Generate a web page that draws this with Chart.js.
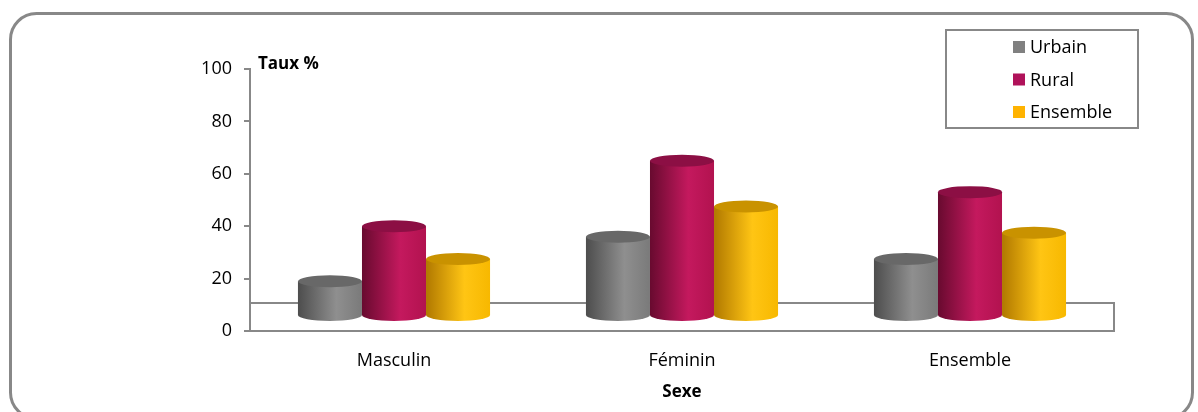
<!DOCTYPE html>
<html lang="fr">
  <head>
    <meta charset="UTF-8" />
    <title>Taux par sexe</title>
    <script src="https://cdn.jsdelivr.net/npm/chart.js@4.4.1/dist/chart.umd.min.js"></script>
    <style>
      html, body { margin: 0; padding: 0; background: #fff; }
    </style>
  </head>
  <body>
    <canvas id="graphique" width="1198" height="412"></canvas>
    <script>
      // Donnees
      var categories = ["Masculin", "Féminin", "Ensemble"];
      var nomsSeries = ["Urbain", "Rural", "Ensemble"];
      var urbain = [19, 36, 27.5];
      var rural = [40, 65, 53];
      var ensemble = [27.5, 47.5, 37.5];
      var graduationsY = [0, 20, 40, 60, 80, 100];
      var titreY = "Taux %";
      var titreX = "Sexe";

      // Couleurs : [bord sombre, reflet, bord droit, dessus, legende]
      var couleurs = [
        ["#4d4d4d", "#8f8f8f", "#7a7a7a", "#686868", "#808080"],
        ["#680a2f", "#c4195e", "#b2124f", "#8c0f44", "#b0125a"],
        ["#b07800", "#ffc514", "#f7b800", "#c99200", "#ffb300"]
      ];

      var police = "'Open Sans', sans-serif";
      var gris = "#888888";
      var invisible = "rgba(0,0,0,0)";

      var dessin = {
        id: "dessin",
        beforeDraw: function (chart) {
          // cadre arrondi (le bas depasse de l'image)
          var ctx = chart.ctx;
          ctx.save();
          ctx.strokeStyle = gris;
          ctx.lineWidth = 3;
          ctx.beginPath();
          ctx.roundRect(10.5, 13.5, 1182, 405, 26);
          ctx.stroke();
          ctx.restore();
        },
        beforeDatasetsDraw: function (chart) {
          // plancher 3D
          var ctx = chart.ctx, a = chart.chartArea;
          ctx.save();
          ctx.strokeStyle = gris;
          ctx.lineWidth = 2;
          ctx.strokeRect(a.left, a.bottom - 28, a.right - a.left, 28);
          ctx.restore();
        },
        afterDatasetsDraw: function (chart) {
          var ctx = chart.ctx, a = chart.chartArea;
          ctx.save();
          chart.data.datasets.forEach(function (ds, i) {
            var c = couleurs[i];
            chart.getDatasetMeta(i).data.forEach(function (bar) {
              var w = bar.width, x = bar.x, g = x - w / 2, d = x + w / 2;
              var haut = bar.y, bas = bar.base - 15, ry = 6;
              var grad = ctx.createLinearGradient(g, 0, d, 0);
              grad.addColorStop(0, c[0]);
              grad.addColorStop(0.6, c[1]);
              grad.addColorStop(1, c[2]);
              ctx.beginPath();
              ctx.moveTo(g, haut);
              ctx.lineTo(g, bas);
              ctx.ellipse(x, bas, w / 2, ry, 0, Math.PI, 0, true);
              ctx.lineTo(d, haut);
              ctx.closePath();
              ctx.fillStyle = grad;
              ctx.fill();
              ctx.beginPath();
              ctx.ellipse(x, haut, w / 2, ry, 0, 0, 2 * Math.PI);
              ctx.fillStyle = c[3];
              ctx.fill();
            });
          });

          // titres
          ctx.fillStyle = "#000";
          ctx.font = "bold 17px " + police;
          ctx.textBaseline = "middle";
          ctx.textAlign = "left";
          ctx.fillText(titreY, a.left + 8, 64);
          ctx.textAlign = "center";
          ctx.fillText(titreX, (a.left + a.right) / 2, 392);

          // legende
          ctx.strokeStyle = gris;
          ctx.lineWidth = 2;
          ctx.strokeRect(946, 30, 192, 98);
          ctx.font = "18px " + police;
          ctx.textAlign = "left";
          chart.data.datasets.forEach(function (ds, i) {
            var y = 47 + i * 32.5;
            ctx.fillStyle = couleurs[i][4];
            ctx.fillRect(1013, y - 6, 12, 12);
            ctx.fillStyle = "#000";
            ctx.fillText(ds.label, 1030, y + 1);
          });
          ctx.restore();
        }
      };

      new Chart(document.getElementById("graphique"), {
        type: "bar",
        data: {
          labels: categories,
          datasets: [
            { label: nomsSeries[0], data: urbain, backgroundColor: invisible },
            { label: nomsSeries[1], data: rural, backgroundColor: invisible },
            { label: nomsSeries[2], data: ensemble, backgroundColor: invisible }
          ]
        },
        options: {
          responsive: false,
          animation: false,
          datasets: {
            bar: {
              borderWidth: 0,
              categoryPercentage: 0.667,
              barPercentage: 1
            }
          },
          layout: { padding: { left: 0, right: 84, top: 69, bottom: 0 } },
          plugins: {
            colors: { enabled: false },
            legend: { display: false },
            tooltip: { enabled: false }
          },
          scales: {
            x: {
              grid: { display: false, drawTicks: false },
              border: { color: gris, width: 2 },
              ticks: { color: "#000", padding: 19, font: { family: police, size: 18 } },
              afterFit: function (s) { s.height = 81; }
            },
            y: {
              min: 0,
              max: 100,
              afterBuildTicks: function (axe) {
                axe.ticks = graduationsY.map(function (v) { return { value: v }; });
              },
              grid: { drawOnChartArea: false, drawTicks: true, tickLength: 6, color: gris, lineWidth: 2 },
              border: { color: gris, width: 2 },
              ticks: { color: "#000", padding: 12, font: { family: police, size: 18 } },
              afterFit: function (s) { s.width = 250; }
            }
          }
        },
        plugins: [dessin]
      });
    </script>
  </body>
</html>
